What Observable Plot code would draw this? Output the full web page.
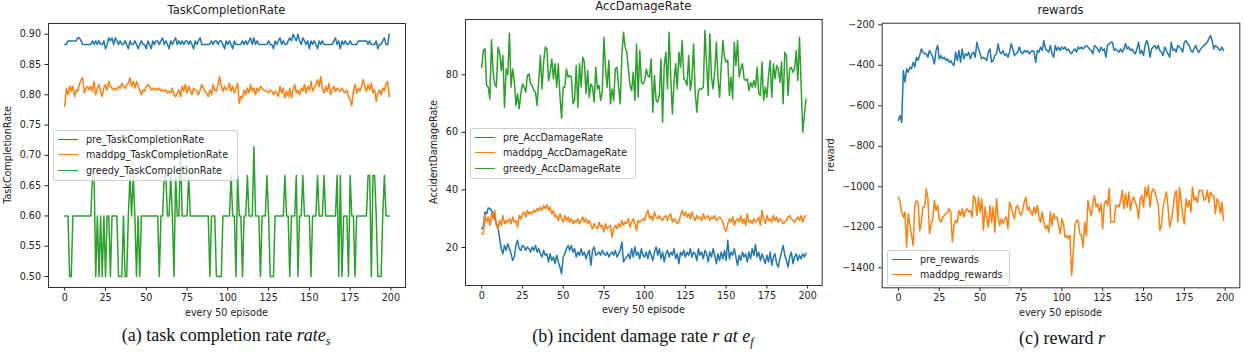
<!DOCTYPE html>
<html>
<head>
<meta charset="utf-8">
<script src="https://cdn.jsdelivr.net/npm/d3@7"></script>
<script src="https://cdn.jsdelivr.net/npm/@observablehq/plot@0.6"></script>
<style>
  html, body { margin: 0; padding: 0; background: #fff; }
  #root { position: relative; width: 1245px; height: 353px; overflow: hidden; background: #fff; font-family: "DejaVu Sans", sans-serif; color: #222; }
  .panel { position: absolute; top: 0; width: 415px; height: 353px; }
  .panel svg { position: absolute; left: 0; top: 0; }
  .title { position: absolute; font-size: 11.6px; white-space: nowrap; transform: translate(-50%, -50%); line-height: 1; }
  .xlab, .ylab { position: absolute; font-size: 9.6px; white-space: nowrap; line-height: 1; }
  .xlab { transform: translate(-50%, -50%); }
  .ylab { transform: translate(-50%, -50%) rotate(-90deg); }
  .legend { position: absolute; box-sizing: border-box; border: 1px solid rgba(200,200,200,0.85); border-radius: 3px; background: rgba(255,255,255,0.8); padding-top: 1px; }
  .legend .row { position: relative; height: 15.4px; font-size: 9.6px; line-height: 15.4px; white-space: nowrap; }
  .legend .sw { position: absolute; left: 4px; top: 7px; width: 20px; height: 0; border-top: 1.5px solid; }
  .legend .tx { position: absolute; left: 32px; top: 0; }
  .caption { position: absolute; font-family: "Liberation Serif", "Times New Roman", serif; font-size: 18px; white-space: nowrap; transform: translate(-50%, -50%); line-height: 1; color: #111; }
  .caption sub { font-size: 12px; vertical-align: -4px; }
</style>
</head>
<body>
<div id="root"></div>
<script>
// ---------- data ----------
const episodes = d3.range(200);
const xTicks = [0, 25, 50, 75, 100, 125, 150, 175, 200];

// Panel (a): task completion rate
const tcrPre = [
0.883,0.883,0.889,0.889,0.889,0.889,0.889,0.889,0.894,0.894,
0.889,0.883,0.883,0.883,0.883,0.883,0.883,0.889,0.883,0.889,
0.883,0.889,0.883,0.883,0.889,0.876,0.883,0.894,0.889,0.894,
0.883,0.894,0.889,0.883,0.889,0.883,0.883,0.889,0.883,0.876,
0.889,0.883,0.883,0.889,0.883,0.876,0.883,0.889,0.883,0.883,
0.876,0.889,0.883,0.876,0.889,0.883,0.889,0.889,0.883,0.889,
0.894,0.883,0.889,0.883,0.876,0.889,0.883,0.889,0.894,0.883,
0.889,0.883,0.889,0.883,0.889,0.889,0.883,0.889,0.883,0.876,
0.889,0.883,0.889,0.894,0.883,0.883,0.883,0.883,0.883,0.883,
0.889,0.883,0.889,0.889,0.883,0.889,0.889,0.883,0.876,0.889,
0.883,0.889,0.883,0.876,0.889,0.883,0.883,0.883,0.883,0.889,
0.883,0.889,0.883,0.889,0.894,0.883,0.894,0.883,0.889,0.883,
0.883,0.883,0.883,0.883,0.883,0.889,0.883,0.883,0.876,0.889,
0.883,0.889,0.894,0.883,0.889,0.883,0.883,0.889,0.894,0.889,
0.900,0.894,0.889,0.900,0.889,0.883,0.894,0.889,0.883,0.889,
0.876,0.889,0.883,0.889,0.883,0.876,0.889,0.883,0.889,0.883,
0.883,0.883,0.883,0.883,0.883,0.889,0.894,0.883,0.889,0.876,
0.889,0.883,0.889,0.883,0.883,0.889,0.883,0.883,0.883,0.883,
0.889,0.889,0.889,0.889,0.889,0.889,0.883,0.889,0.883,0.883,
0.883,0.889,0.876,0.883,0.883,0.889,0.894,0.883,0.883,0.900];
const tcrMaddpg = [
0.781,0.811,0.800,0.814,0.806,0.814,0.797,0.808,0.806,0.817,
0.825,0.828,0.803,0.811,0.814,0.808,0.814,0.806,0.822,0.800,
0.811,0.817,0.806,0.797,0.811,0.817,0.808,0.822,0.814,0.811,
0.808,0.811,0.808,0.814,0.811,0.819,0.814,0.811,0.817,0.819,
0.828,0.814,0.822,0.811,0.822,0.814,0.808,0.800,0.808,0.806,
0.814,0.817,0.814,0.808,0.811,0.808,0.811,0.808,0.811,0.806,
0.808,0.806,0.808,0.803,0.806,0.803,0.811,0.800,0.797,0.803,
0.808,0.797,0.814,0.806,0.817,0.803,0.814,0.806,0.800,0.811,
0.808,0.806,0.800,0.808,0.817,0.811,0.806,0.803,0.797,0.808,
0.800,0.817,0.808,0.806,0.817,0.830,0.814,0.806,0.814,0.808,
0.811,0.819,0.806,0.814,0.803,0.811,0.819,0.786,0.797,0.795,
0.808,0.800,0.811,0.803,0.817,0.806,0.811,0.800,0.811,0.806,
0.814,0.811,0.808,0.806,0.806,0.803,0.808,0.806,0.800,0.806,
0.803,0.797,0.814,0.803,0.811,0.795,0.806,0.797,0.811,0.795,
0.808,0.817,0.803,0.808,0.800,0.811,0.806,0.817,0.803,0.814,
0.808,0.822,0.806,0.811,0.817,0.825,0.814,0.830,0.811,0.803,
0.814,0.806,0.819,0.800,0.808,0.814,0.806,0.811,0.808,0.806,
0.811,0.806,0.803,0.808,0.797,0.792,0.782,0.806,0.817,0.803,
0.811,0.806,0.814,0.825,0.814,0.806,0.817,0.808,0.819,0.803,
0.808,0.789,0.803,0.808,0.800,0.811,0.806,0.817,0.822,0.797];
const tcrGreedy = [
0.6,0.6,0.6,0.5,0.5,0.6,0.6,0.6,0.6,0.6,
0.6,0.6,0.6,0.6,0.6,0.6,0.6,0.6667,0.6667,0.5,
0.6,0.5,0.6,0.5,0.6,0.5,0.6,0.6,0.5,0.6,
0.6,0.6,0.6,0.5,0.5,0.5,0.6,0.5,0.5,0.6,
0.6667,0.6,0.6667,0.6,0.5,0.6,0.5,0.6,0.6,0.6,
0.6,0.6,0.6,0.6,0.6,0.6,0.6,0.6,0.5,0.6,
0.6,0.6667,0.6667,0.6,0.6,0.6667,0.6,0.5,0.6667,0.6,
0.6,0.7143,0.6,0.6,0.6,0.6,0.6667,0.6,0.6,0.6,
0.6,0.6,0.6,0.6,0.6,0.6,0.6,0.6,0.6,0.5,
0.6,0.6,0.6,0.5,0.5,0.5,0.5,0.6,0.6,0.6,
0.6,0.6,0.6667,0.6,0.6,0.5,0.6667,0.6,0.6,0.5,
0.6,0.6,0.6667,0.6,0.6,0.6,0.7143,0.6,0.6,0.6,
0.5,0.6,0.6,0.6,0.6667,0.6,0.5,0.5,0.5,0.6,
0.6,0.6,0.6,0.6,0.6,0.6667,0.6,0.6,0.5,0.6,
0.6,0.6,0.6667,0.5,0.6,0.6,0.6667,0.6,0.6,0.6,
0.6,0.5,0.6,0.6,0.6,0.6667,0.6,0.6,0.6,0.6667,
0.6,0.6,0.6,0.6,0.6,0.6,0.6,0.6667,0.5,0.6667,
0.5,0.6,0.6,0.6,0.5,0.6667,0.6,0.6,0.5,0.6,
0.6,0.6,0.6,0.6,0.6,0.6,0.6667,0.6667,0.5,0.6667,
0.6667,0.6,0.5,0.5,0.5,0.6,0.6667,0.6,0.6,0.6];
const tcrTicks = [0.50, 0.55, 0.60, 0.65, 0.70, 0.75, 0.80, 0.85, 0.90];

// Panel (b): accident damage rate
const adrPre = [
26.5,27.1,32.3,31.7,33.7,33.5,32.9,31.7,30,28.3,
27.1,23,19.6,17.8,20.7,19,21.3,19.6,17.8,15.5,
16.7,20.7,22.5,19.6,19,20.7,20.2,19,20.2,19.6,
18.4,20.2,19,20.7,18.4,19.6,17.8,16.7,19,17.3,
17.8,15,17.8,15.5,16.7,14.4,17.3,15,13.2,10.9,
16.7,17.8,19.6,20.7,19,20.7,18.4,19.6,16.7,18.4,
17.3,19.6,17.3,18.4,16.1,17.8,19,13.8,19,20.2,
17.3,17.8,18.4,17.3,19,17.8,17.3,18.4,16.7,17.8,
18.4,17.3,19,16.7,17.8,19,21.9,15,16.1,16.7,
17.8,16.1,19.6,16.7,20.2,17.3,18.4,16.1,19.6,17.3,
16.7,18.4,16.1,19,17.3,15.5,18.4,20.2,17.3,19.6,
16.1,18.4,15,17.8,19,16.7,18.4,17.3,19.6,16.1,
17.8,14.4,18.4,17.3,19,16.7,18.4,17.3,19.6,16.7,
18.4,17.8,15.5,19.6,17.3,18.4,16.1,19,17.8,15,
18.4,16.7,19.6,17.3,14.4,17.8,15.5,18.4,16.1,19,
15.5,22.5,16.1,18.4,17.3,19.6,16.7,13.8,17.3,15.5,
18.4,16.7,17.8,15,18.4,16.1,19.6,17.3,21,16.7,
18.4,15.5,17.8,16.1,14.4,17.3,15,18.4,13.8,16.7,
17.8,14.4,13.2,16.1,18.4,20.7,17.3,15.5,13.2,16.7,
18.4,14.4,16.7,17.8,15.5,17.3,16.1,17.8,16.7,18];
const adrMaddpg = [
24.8,24.8,31.1,28.8,30.6,27.7,31.7,30,32.9,27.7,
26.5,29.4,27.7,31.1,28.3,29.4,28.8,30,28.3,30.6,
28.8,29.4,27.1,31.1,30,31.7,32.3,30.6,32.9,31.7,
32.3,31.7,32.9,32.3,33.5,32.9,34,32.9,34.6,33.5,
34.8,32.9,34,31.7,32.9,30.6,31.1,29.4,31.7,30,
28.8,31.1,29.4,30.6,28.8,30,28.3,29.4,28.8,30,
28.3,29.4,30.6,28.8,30,28.3,29.4,27.7,26.5,28.3,
27.1,26.5,28.8,27.1,27.7,25.4,28.3,26.5,27.1,27.7,
23.6,26.5,27.7,26.5,28.3,27.1,29.4,27.7,28.8,28.3,
30,27.1,28.8,30,28.3,25.9,29.4,28.8,29.4,30,
29.4,31.7,32.9,30,31.1,29.4,32.3,30.6,30,31.1,
30,29.4,30.6,31.1,29.4,31.1,31.7,28.8,30,29.4,
28.3,28.8,31.1,32.9,31.1,32.3,30.6,31.7,30,32.3,
30.6,29.4,31.1,30,30.6,29.4,31.7,30,30.6,31.1,
29.4,30.6,30,31.1,29.4,30,30.6,30,28.8,26.5,
25.6,28.3,30,28.8,30.6,27.7,29.4,30,28.8,31.1,
28.3,30,27.7,31.7,28.8,29.4,28.3,30,28.8,29.4,
30.6,27.7,32.9,30,28.3,31.1,29.4,30,28.8,31.1,
29.4,30.6,28.8,30,29.4,28.3,28.8,29.4,30.6,31.1,
30,29.4,28.8,30,30.6,29.4,31.1,28.8,30.6,31.1];
const adrGreedy = [
82.6,88.4,89,76.3,75.7,71.6,92.2,80.9,76.8,75.7,
89.6,87.8,81.5,86.7,68.7,82,80,94.5,75.7,82,
78,69.3,73.4,68.2,73.4,76.8,75.7,74,79.7,80.3,
76.8,76.3,74.5,74,69.3,78,86.7,75.1,84.4,89.6,
89,78,80.9,85.5,78.6,83.8,75.7,83.8,72.8,64.9,
75.7,75.7,82,79.2,79.7,79.2,69.9,71.1,83.2,68.7,
83.8,75.7,86.1,84.4,73.4,81.5,72.2,76.8,75.7,70.5,
82.6,75.1,76.3,71.1,74,93,82,75.7,85,69.9,
75.1,71.1,82,82.6,75.7,69.9,86.7,94.8,89.6,87.8,
82,76.3,74.5,80.9,71.1,90.7,72.2,88.4,77.4,76.8,
78,82,79.7,79.2,85.5,67,79.7,71.1,70.5,72.8,
85.5,63.5,83.2,87.8,75.1,94.8,79.2,66.4,77.4,83.8,
75.1,87.8,82.6,91.9,78.6,78,76.3,86.7,74.5,78.6,
90.7,74,67,74.5,75.1,75.1,75.7,95.4,83.8,72.8,
94.2,79.2,75.1,80.9,91.3,78.6,72.2,83.2,91.9,86.1,
84.4,85,72.8,79.2,71.6,91.3,83.2,91.9,79.2,82,
83.8,78.6,78,78.6,74.5,77.4,75.7,78,75.7,82.6,
73.4,72.8,84.4,71.1,75.7,72.2,79.7,85,72.2,83.8,
78.6,83.2,82,77.4,84.4,69.9,87.8,86.7,72.8,82,
82.6,80.9,82,88.4,78,93,77,60,66,71.5];
const adrTicks = [20, 40, 60, 80];

// Panel (c): rewards
const rwPre = [
-672,-648,-681,-426,-483,-417,-434,-409,-417,-385,
-409,-360,-376,-352,-319,-335,-343,-343,-360,-327,
-343,-360,-393,-327,-302,-368,-352,-368,-360,-376,
-368,-385,-376,-393,-401,-335,-376,-327,-385,-319,
-368,-343,-352,-335,-368,-343,-335,-360,-286,-319,
-343,-368,-360,-368,-376,-335,-319,-385,-376,-352,
-343,-294,-335,-343,-327,-352,-343,-360,-335,-294,
-319,-352,-343,-335,-310,-335,-343,-327,-335,-327,
-343,-335,-327,-335,-385,-327,-335,-310,-327,-278,
-319,-327,-335,-302,-343,-360,-302,-327,-310,-327,
-310,-319,-310,-327,-319,-335,-343,-327,-319,-335,
-310,-319,-310,-319,-310,-302,-310,-319,-327,-343,
-302,-310,-319,-335,-310,-327,-319,-360,-302,-294,
-286,-286,-327,-319,-327,-335,-319,-335,-319,-294,
-319,-310,-327,-319,-335,-343,-319,-286,-343,-327,
-352,-302,-278,-302,-360,-319,-310,-302,-319,-302,
-327,-335,-352,-310,-327,-343,-360,-286,-327,-319,
-335,-302,-310,-319,-335,-286,-278,-294,-302,-327,
-335,-319,-302,-327,-335,-319,-310,-302,-294,-286,
-269,-253,-278,-319,-302,-310,-319,-327,-310,-327];
const rwMaddpg = [
-1051,-1076,-1125,-1150,-1125,-1298,-1133,-1191,-1240,-1290,
-1092,-1068,-1076,-1216,-1175,-1100,-1100,-1010,-1059,-1232,
-1183,-1158,-1068,-1117,-1092,-1158,-1175,-1150,-1142,-1133,
-1125,-1109,-1125,-1273,-1191,-1166,-1175,-1117,-1142,-1109,
-1150,-1117,-1109,-1125,-1117,-1150,-1043,-1059,-1142,-1051,
-1125,-1059,-1216,-1100,-1158,-1199,-1092,-1175,-1100,-1224,
-1059,-1150,-1191,-1158,-1183,-1158,-1150,-1207,-1076,-1100,
-1133,-1158,-1100,-1092,-1125,-1142,-1117,-1076,-1051,-1117,
-1100,-1125,-1142,-1100,-1133,-1092,-1150,-1175,-1125,-1175,
-1207,-1191,-1224,-1125,-1191,-1133,-1158,-1150,-1191,-1232,
-1158,-1183,-1249,-1240,-1257,-1240,-1438,-1323,-1191,-1166,
-1166,-1232,-1240,-1298,-1175,-1240,-1068,-1109,-1142,-1084,
-1043,-1100,-1084,-1125,-1084,-1207,-1084,-1068,-1092,-1010,
-1175,-1175,-1175,-1092,-1092,-1100,-1068,-1018,-1109,-1035,
-1100,-1026,-1117,-1068,-1051,-1076,-1100,-1158,-1059,-1043,
-1100,-1002,-1051,-994,-1100,-1026,-1010,-1026,-1059,-1084,
-1216,-1191,-1100,-1059,-1026,-1100,-1199,-1166,-1117,-1043,
-1018,-1175,-1002,-1068,-1142,-1183,-1059,-1100,-1068,-1125,
-1002,-1068,-1051,-1076,-1018,-1018,-1018,-1068,-1059,-1018,
-1076,-1026,-1043,-1043,-1133,-1059,-1076,-1133,-1076,-1166];
const rwTicks = [-1400, -1200, -1000, -800, -600, -400, -200];

const colors = { pre: "#1f77b4", maddpg: "#ff7f0e", greedy: "#2ca02c" };

// ---------- panels ----------
const minusFmt = d => (d < 0 ? "\u2212" + Math.abs(d) : String(d));

const panels = [
  {
    left: 0, title: "TaskCompletionRate", ylabel: "TaskCompletionRate",
    margins: [23, 10, 33, 48], yDomain: [0.4819, 0.9177], yTicks: tcrTicks, yFmt: d3.format(".2f"),
    series: [
      { name: "pre_TaskCompletionRate", values: tcrPre, color: colors.pre },
      { name: "maddpg_TaskCompletionRate", values: tcrMaddpg, color: colors.maddpg },
      { name: "greedy_TaskCompletionRate", values: tcrGreedy, color: colors.greedy }
    ],
    titleY: 10.7, ylabX: 8.3, xlabY: 313, legend: { left: 53, top: 130, width: 185 },
    caption: '(a) task completion rate <i>rate</i><sub><i>s</i></sub>', capX: 226, capY: 336
  },
  {
    left: 415, title: "AccDamageRate", ylabel: "AccidentDamageRate",
    margins: [19, 8.3, 35, 50], yDomain: [6.8, 99.2], yTicks: adrTicks, yFmt: d => String(d),
    series: [
      { name: "pre_AccDamageRate", values: adrPre, color: colors.pre },
      { name: "maddpg_AccDamageRate", values: adrMaddpg, color: colors.maddpg },
      { name: "greedy_AccDamageRate", values: adrGreedy, color: colors.greedy }
    ],
    titleY: 7.3, ylabX: 19.3, xlabY: 310, legend: { left: 55, top: 128, width: 166 },
    caption: '(b) incident damage rate <i>r at e</i><sub><i>f</i></sub>', capX: 228, capY: 337
  },
  {
    left: 830, title: "rewards", ylabel: "reward",
    margins: [22.7, 5.7, 32.7, 51.7], yDomain: [-1499, -192], yTicks: rwTicks, yFmt: minusFmt,
    series: [
      { name: "pre_rewards", values: rwPre, color: colors.pre },
      { name: "maddpg_rewards", values: rwMaddpg, color: colors.maddpg }
    ],
    titleY: 10.7, ylabX: 1, xlabY: 313, legend: { left: 57, top: 250, width: 123 },
    caption: '(c) reward <i>r</i>', capX: 232, capY: 338
  }
];

const root = document.getElementById("root");

for (const p of panels) {
  const [mt, mr, mb, ml] = p.margins;
  const W = 415, H = 320;
  const div = document.createElement("div");
  div.className = "panel";
  div.style.left = p.left + "px";
  root.appendChild(div);

  const chart = Plot.plot({
    width: W, height: H,
    marginTop: mt, marginRight: mr, marginBottom: mb, marginLeft: ml,
    style: { fontFamily: "DejaVu Sans", fontSize: "9.6px", color: "#222", background: "transparent" },
    x: { domain: [-9.95, 208.95], ticks: xTicks, tickFormat: d => String(d), label: null, tickSize: 3.5, tickPadding: 3 },
    y: { domain: p.yDomain, ticks: p.yTicks, tickFormat: p.yFmt, label: null, tickSize: 3.5, tickPadding: 4 },
    marks: [
      ...p.series.map(s => Plot.lineY(s.values, { x: episodes, stroke: s.color, strokeWidth: 1.5, strokeLinejoin: "round" })),
      Plot.frame({ stroke: "#333", strokeWidth: 1 })
    ]
  });
  div.appendChild(chart);

  const cx = ml + (W - ml - mr) / 2;
  const cy = mt + (H - mt - mb) / 2;

  const t = document.createElement("div");
  t.className = "title"; t.textContent = p.title;
  t.style.left = cx + "px"; t.style.top = p.titleY + "px";
  div.appendChild(t);

  const yl = document.createElement("div");
  yl.className = "ylab"; yl.textContent = p.ylabel;
  yl.style.left = p.ylabX + "px"; yl.style.top = cy + "px";
  div.appendChild(yl);

  const xl = document.createElement("div");
  xl.className = "xlab"; xl.textContent = "every 50 episode";
  xl.style.left = cx + "px"; xl.style.top = p.xlabY + "px";
  div.appendChild(xl);

  const lg = document.createElement("div");
  lg.className = "legend";
  lg.style.left = p.legend.left + "px"; lg.style.top = p.legend.top + "px"; lg.style.width = p.legend.width + "px";
  for (const s of p.series) {
    const row = document.createElement("div");
    row.className = "row";
    const sw = document.createElement("span"); sw.className = "sw"; sw.style.borderTopColor = s.color;
    const tx = document.createElement("span"); tx.className = "tx"; tx.textContent = s.name;
    row.appendChild(sw); row.appendChild(tx);
    lg.appendChild(row);
  }
  lg.style.paddingBottom = "2px";
  div.appendChild(lg);

  const cap = document.createElement("div");
  cap.className = "caption"; cap.innerHTML = p.caption;
  cap.style.left = p.capX + "px"; cap.style.top = p.capY + "px";
  div.appendChild(cap);
}
</script>
</body>
</html>
